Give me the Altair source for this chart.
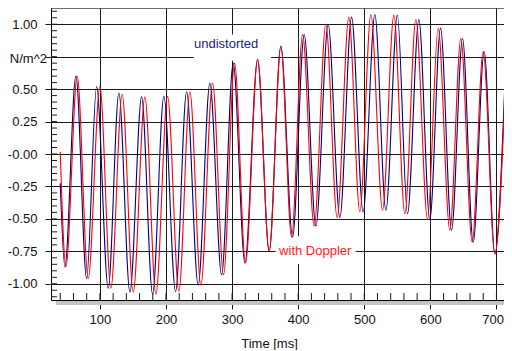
import altair as alt
import pandas as pd

# --- data (time in ms, pressure in N/m^2), extrema of each curve ---
blue_t = [40, 47.0, 63.7, 79.9, 95.0, 112.6, 128.7, 145.4, 163.1, 179.7, 196.8, 214.5, 231.2,
          248.7, 266.4, 284.1, 301.7, 319.4, 338.6, 356.1, 373.8, 391.5, 409.1, 426.8, 445.4,
          463.1, 480.8, 498.3, 516.0, 532.7, 550.1, 565.4, 582.6, 599.2, 615.4, 632.1, 648.7,
          664.8, 681.4, 697.6, 713.8]
blue_v = [-0.225, -0.87, 0.60, -0.96, 0.52, -1.035, 0.47, -1.065, 0.44, -1.08, 0.445, -1.06, 0.48,
          -1.01, 0.546, -0.93, 0.70, -0.84, 0.73, -0.75, 0.83, -0.64, 0.92, -0.555, 0.998,
          -0.49, 1.055, -0.446, 1.075, -0.433, 1.07, -0.46, 1.036, -0.505, 0.97, -0.587, 0.89,
          -0.68, 0.79, -0.77, 0.69]
red_t = [40, 48.6, 65.7, 82.3, 100.0, 116.6, 133.7, 150.4, 168.1, 184.7, 202.4, 219.5, 236.2,
         252.8, 270.5, 287.1, 303.8, 320.4, 338.6, 356.1, 373.8, 390.0, 406.7, 424.2, 441.9,
         459.0, 476.7, 493.3, 510.0, 527.7, 544.8, 561.4, 578.1, 595.8, 611.8, 629.5, 646.1,
         663.3, 679.9, 697.6, 713.8]
red_v = [0.015, -0.87, 0.60, -0.96, 0.52, -1.035, 0.46, -1.065, 0.44, -1.08, 0.445, -1.06, 0.48,
         -1.01, 0.546, -0.93, 0.70, -0.84, 0.73, -0.75, 0.83, -0.64, 0.92, -0.555, 0.998,
         -0.49, 1.055, -0.446, 1.075, -0.433, 1.07, -0.46, 1.036, -0.505, 0.97, -0.587, 0.89,
         -0.68, 0.79, -0.77, 0.57]

x_ticks = [100, 200, 300, 400, 500, 600, 700]
y_ticks = [-1.0, -0.75, -0.5, -0.25, 0.0, 0.25, 0.5, 0.75, 1.0]
x_minor = [40 + 20 * i for i in range(34)]
y_minor = [round(-1.10 + 0.05 * i, 2) for i in range(45)]

labels = pd.DataFrame({
    "t": [291, 425.8],
    "v": [0.844, -0.748],
    "txt": ["undistorted", "with Doppler"],
    "col": ["#1c1c8c", "#ff1a1a"],
})
boxes = pd.DataFrame({
    "t": [242, 366], "t2": [359, 487],
    "v": [0.72, -0.633], "v2": [0.92, -0.848],
})

W, H = 453, 292
FONT = "Liberation Sans"

xscale = alt.Scale(domain=[26, 26 + W / 0.6609], nice=False, zero=False)
yscale = alt.Scale(domain=[-1.125, 1.125], nice=False, zero=False)

xaxis = alt.Axis(values=x_ticks, grid=True, gridColor="#1a1a1a", gridWidth=1,
                 tickSize=9, tickColor="#1a1a1a", domainColor="#000",
                 labelFont=FONT, labelFontSize=13, labelColor="#111", labelPadding=4,
                 labelAlign={"condition": {"test": "datum.value == 700", "value": "right"}, "value": "center"},
                 labelOffset={"condition": {"test": "datum.value == 700", "value": 7}, "value": 0},
                 title="Time [ms]", titleFont=FONT, titleFontSize=13, titleFontWeight="normal",
                 titleColor="#111", titleX=218, titleY=47, titleBaseline="alphabetic")
yaxis = alt.Axis(values=y_ticks, grid=True, gridColor="#1a1a1a", gridWidth=1,
                 tickSize=6, tickColor="#1a1a1a", domainColor="#000",
                 labelFont=FONT, labelFontSize=13, labelColor="#111", labelPadding=8,
                 labelExpr="abs(datum.value-0.75)<0.001 ? '' : (abs(datum.value)<0.001 ? '-0.00' : ((datum.value<0 ? '-' : '') + format(abs(datum.value), '.2f')))",
                 title="")

X = lambda f: alt.X(f, type="quantitative", scale=xscale, axis=xaxis)
Y = lambda f: alt.Y(f, type="quantitative", scale=yscale, axis=yaxis)

blue = pd.DataFrame({"t": blue_t, "v": blue_v})
red = pd.DataFrame({"t": red_t, "v": red_v})

one = alt.Data(values=[{"a": 1}])

band = alt.Chart(one).mark_rect(color="#c4c4c4").encode(
    x=alt.value(5), x2=alt.value(W), y=alt.value(H + 1), y2=alt.value(H + 5))
top = alt.Chart(one).mark_rule(color="#000", strokeWidth=1).encode(
    x=alt.value(0), x2=alt.value(W), y=alt.value(0))

white = alt.Chart(boxes).mark_rect(color="white").encode(
    x=X("t"), x2="t2", y=Y("v"), y2="v2")

yminor = alt.Chart(pd.DataFrame({"v": y_minor})).mark_rule(color="#1a1a1a").encode(
    y=Y("v"), x=alt.value(0), x2=alt.value(6))
xminor = alt.Chart(pd.DataFrame({"t": x_minor})).mark_rule(color="#1a1a1a").encode(
    x=X("t"), y=alt.value(H - 7), y2=alt.value(H))

blue_line = alt.Chart(blue).mark_line(color="#000080", strokeWidth=1.1, interpolate="monotone",
                                      clip=True).encode(x=X("t"), y=Y("v"))
red_line = alt.Chart(red).mark_line(color="#ff0000", strokeWidth=1.1, interpolate="monotone",
                                    clip=True).encode(x=X("t"), y=Y("v"))

texts = alt.Chart(labels).mark_text(font=FONT, fontSize=13, align="center", baseline="middle").encode(
    x=X("t"), y=Y("v"), text="txt:N", color=alt.Color("col:N", scale=None))

unit = alt.Chart(one).mark_text(font=FONT, fontSize=13, align="right", baseline="middle",
                                color="#111", text="N/m^2").encode(
    x=alt.value(-4), y=alt.value(51))

chart = alt.layer(band, white, yminor, xminor, blue_line, red_line, texts, unit, top).properties(
    width=W, height=H,
    autosize=alt.AutoSizeParams(type="none"),
    padding={"left": 43, "top": 0, "right": 0, "bottom": 50},
).configure_view(stroke=None).configure(background="white")

chart.save("out.html", embed_options={"renderer": "svg", "actions": False})
